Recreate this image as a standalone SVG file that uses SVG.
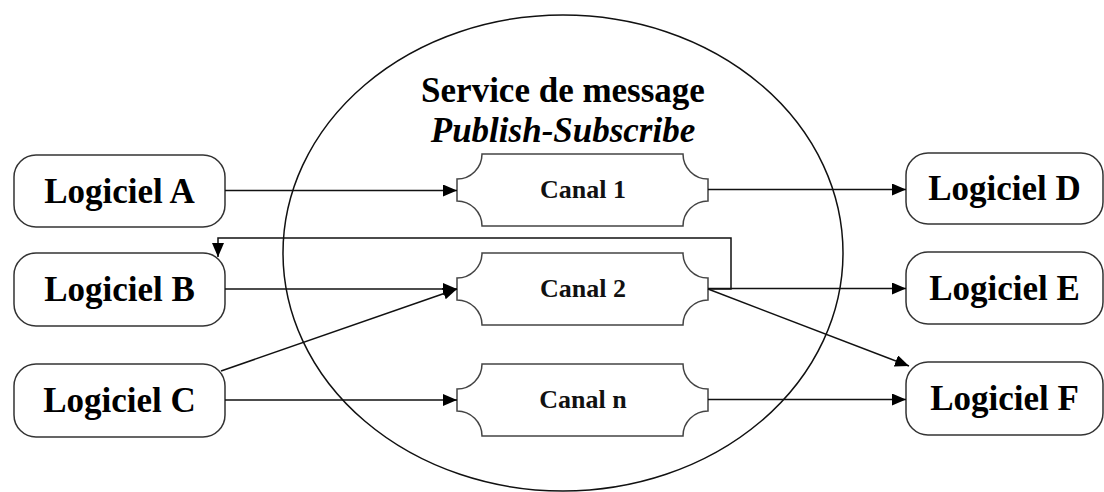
<svg xmlns="http://www.w3.org/2000/svg" width="1104" height="492" viewBox="0 0 1104 492">
<defs>
<marker id="arr" markerWidth="15" markerHeight="13" refX="14" refY="6" orient="auto" markerUnits="userSpaceOnUse">
<path d="M0,0 L14,6 L0,12 Z" fill="#000"/>
</marker>
<style>
.box{fill:#fff;stroke:#333;stroke-width:1.5}
.canal{fill:#fff;stroke:#444;stroke-width:1.5}
.lbl{font-family:"Liberation Serif","Times New Roman",serif;font-weight:bold;font-size:35px;text-anchor:middle;fill:#000}
.clbl{font-family:"Liberation Serif","Times New Roman",serif;font-weight:bold;font-size:26px;text-anchor:middle;fill:#111}
.con{fill:none;stroke:#111;stroke-width:1.5;marker-end:url(#arr)}
</style>
</defs>
<rect width="1104" height="492" fill="#fff"/>
<g id="service">
<ellipse cx="563" cy="253" rx="280" ry="238" fill="none" stroke="#111" stroke-width="1.5"/>
<text class="lbl" x="563" y="102">Service de message</text>
<text class="lbl" x="563" y="142" font-style="italic">Publish-Subscribe</text>
</g>
<g id="canal1">
<path class="canal" d="M482 154 H683 A25 25 0 0 0 708 179 V201 A25 25 0 0 0 683 226 H482 A25 25 0 0 0 457 201 V179 A25 25 0 0 0 482 154 Z"/>
<text class="clbl" x="583" y="198">Canal 1</text>
</g>
<g id="canal2">
<path class="canal" d="M482 253 H683 A25 25 0 0 0 708 278 V300 A25 25 0 0 0 683 325 H482 A25 25 0 0 0 457 300 V278 A25 25 0 0 0 482 253 Z"/>
<text class="clbl" x="583" y="297">Canal 2</text>
</g>
<g id="canaln">
<path class="canal" d="M482 364 H683 A25 25 0 0 0 708 389 V411 A25 25 0 0 0 683 436 H482 A25 25 0 0 0 457 411 V389 A25 25 0 0 0 482 364 Z"/>
<text class="clbl" x="583" y="408">Canal n</text>
</g>
<g id="logicielA"><rect class="box" x="14" y="155" width="211" height="72" rx="22"/><text class="lbl" x="119.5" y="203">Logiciel A</text></g>
<g id="logicielB"><rect class="box" x="14" y="253" width="211" height="73" rx="22"/><text class="lbl" x="119.5" y="301">Logiciel B</text></g>
<g id="logicielC"><rect class="box" x="14" y="364" width="211" height="73" rx="22"/><text class="lbl" x="119.5" y="412">Logiciel C</text></g>
<g id="logicielD"><rect class="box" x="906" y="153" width="197" height="71" rx="22"/><text class="lbl" x="1004.5" y="200">Logiciel D</text></g>
<g id="logicielE"><rect class="box" x="906" y="252" width="197" height="72" rx="22"/><text class="lbl" x="1004.5" y="300">Logiciel E</text></g>
<g id="logicielF"><rect class="box" x="906" y="362" width="197" height="73" rx="22"/><text class="lbl" x="1004.5" y="410">Logiciel F</text></g>
<g id="connectors">
<line class="con" x1="225" y1="190.5" x2="457" y2="190.5"/>
<line class="con" x1="708" y1="189.5" x2="906" y2="189.5"/>
<line class="con" x1="225" y1="289" x2="457" y2="289"/>
<line class="con" x1="221" y1="371" x2="457" y2="289"/>
<line class="con" x1="225" y1="400" x2="457" y2="400"/>
<line class="con" x1="708" y1="399.5" x2="906" y2="399.5"/>
<line class="con" x1="708" y1="288.5" x2="906" y2="288.5"/>
<line class="con" x1="708" y1="289" x2="909" y2="366"/>
<polyline class="con" points="708,289 731,289 731,238 218,238 218,257"/>
</g>
</svg>
